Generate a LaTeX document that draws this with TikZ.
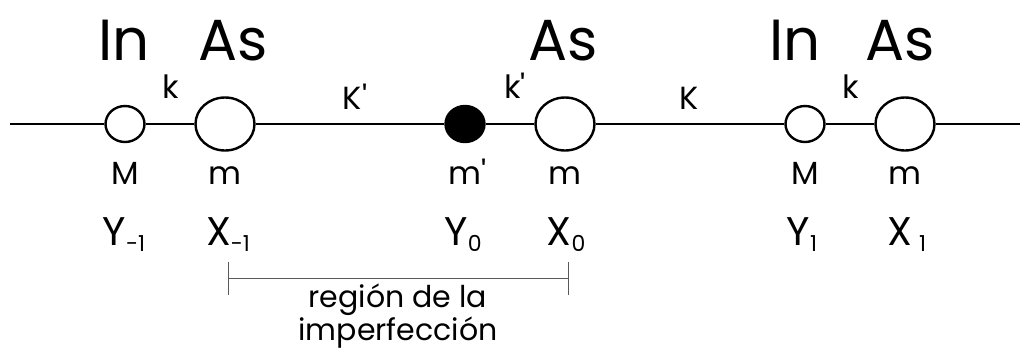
\documentclass[tikz,border=0pt]{standalone}
\usepackage{fontspec}
\setmainfont{Poppins}
\usetikzlibrary{shapes.geometric}

\newcommand{\idx}[1]{\raisebox{-6pt}{\fontsize{22}{22}\selectfont #1}}

\begin{document}
\begin{tikzpicture}[x=1pt, y=-1pt,
        bigatom/.style={ellipse, draw, line width=2.4pt, minimum width=59pt, minimum height=53pt, inner sep=0pt, fill=white},
        smallatom/.style={ellipse, draw, line width=2.4pt, minimum width=39pt, minimum height=36pt, inner sep=0pt, fill=white},
        chain/.style={line width=2pt},
        elem/.style={font=\fontsize{58}{60}\selectfont, anchor=base, inner sep=0pt},
        lbl/.style={font=\fontsize{32}{34}\selectfont, anchor=base, inner sep=0pt},
        site/.style={font=\fontsize{40}{42}\selectfont, anchor=base, inner sep=0pt}]
        \useasboundingbox (0,0) rectangle (1020,349);

        % Atoms of the chain
        \node[smallatom] (ym1) at (125,124) {};
        \node[bigatom] (xm1) at (225,124) {};
        \node[smallatom, fill=black] (y0) at (465,124) {};
        \node[bigatom] (x0) at (565,124) {};
        \node[smallatom] (y1) at (805,124) {};
        \node[bigatom] (x1) at (905,124) {};
        \coordinate (west) at (10,124);
        \coordinate (east) at (1020,124);

        % Springs
        \draw[chain] (west) -- (ym1) -- (xm1) -- (y0) -- (x0) -- (y1) -- (x1) -- (east);

        % Species
        \node[elem] (in1) at (124,60) {In};
        \node[elem] (as1) at (233,60) {As};
        \node[elem] (as0) at (563,60) {As};
        \node[elem] (in2) at (795,60) {In};
        \node[elem] (as2) at (900,60) {As};

        % Spring constants
        \node[lbl] (k1) at (171,98) {k};
        \node[lbl] (kp1) at (355,109) {K\textquotesingle};
        \node[lbl] (kp2) at (515,98) {k\textquotesingle};
        \node[lbl] (kk) at (689,109) {K};
        \node[lbl] (k2) at (851,98) {k};

        % Masses
        \node[lbl] (mM1) at (125,184) {M};
        \node[lbl] (mm1) at (225,184) {m};
        \node[lbl] (mp0) at (468,184) {m\textquotesingle};
        \node[lbl] (mm0) at (565,184) {m};
        \node[lbl] (mM2) at (805,184) {M};
        \node[lbl] (mm2) at (905,184) {m};

        % Displacements
        \node[site] (lym1) at (124,245) {Y\idx{-1}};
        \node[site] (lxm1) at (228,245) {X\idx{-1}};
        \node[site] (ly0) at (463,245) {Y\idx{0}};
        \node[site] (lx0) at (566,245) {X\idx{0}};
        \node[site] (ly1) at (802,245) {Y\idx{1}};
        \node[site] (lx1) at (907,245) {X\,\idx{1}};

        % Imperfection region
        \draw[gray!70!black, line width=1pt] (228,262) -- (228,295) (228,278) -- (568,278) (568,262) -- (568,295);
        \node[font=\fontsize{30}{33}\selectfont, align=center, anchor=base] (reg) at (398,340) {región de la\\imperfección};
\end{tikzpicture}
\end{document}
